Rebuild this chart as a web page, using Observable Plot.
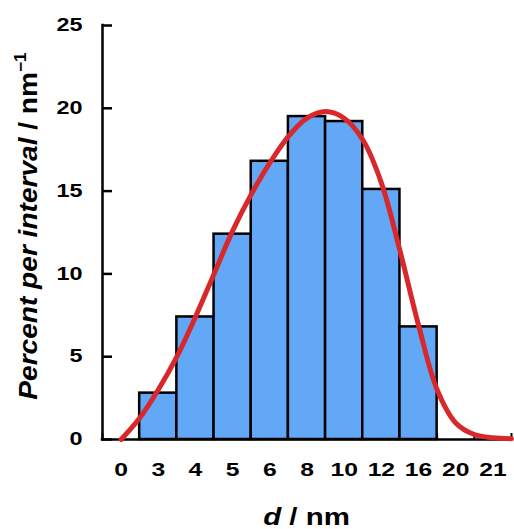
<!DOCTYPE html>
<html>
<head>
<meta charset="utf-8">
<script src="https://cdn.jsdelivr.net/npm/d3@7"></script>
<script src="https://cdn.jsdelivr.net/npm/@observablehq/plot@0.6"></script>
<style>
  body { margin: 0; background: #fff; }
  svg { display: block; }
</style>
</head>
<body>
<div id="chart"></div>
<script>
// Size classes (nm) shown along the x axis, one per interval
const sizeLabels = ["0", "3", "4", "5", "6", "8", "10", "12", "16", "20", "21"];
// Percent of particles per interval
const percents = [0, 2.8, 7.4, 12.4, 16.8, 19.5, 19.2, 15.1, 6.8, 0, 0];
// Fitted distribution curve, position given in interval index units
const fitPos = [0, 0.5, 1, 1.5, 2, 2.5, 3, 3.5, 4, 4.5, 5, 5.5, 6, 6.5, 7, 7.5, 8, 8.5, 9, 9.5, 10, 10.5];
const fitPct = [0, 1.3, 3.0, 5.0, 7.4, 10.0, 12.6, 14.8, 16.7, 18.3, 19.4, 19.8, 19.4, 18.1, 15.5, 11.4, 6.9, 3.0, 1.0, 0.3, 0.1, 0.05];
const yTicks = [0, 5, 10, 15, 20, 25];

const bins = sizeLabels.map((label, i) => ({i, label, pct: percents[i]}));
const fit = fitPos.map((p, k) => ({p, pct: fitPct[k]}));
const n = sizeLabels.length;
const edges = d3.range(n + 1).map(k => k - 0.5);

const font = "'Liberation Sans', Arial, Helvetica, sans-serif";

const plot = Plot.plot({
  width: 514,
  height: 529,
  marginLeft: 102,
  marginRight: 3,
  marginTop: 25,
  marginBottom: 90,
  style: {fontFamily: font, fontWeight: "bold", fontSize: "18px", color: "#000", background: "#fff", overflow: "visible"},
  x: {type: "linear", domain: [-0.5, n - 0.5]},
  y: {domain: [0, 25]},
  marks: [
    // small upward ticks at interval boundaries
    Plot.axisX(edges, {tickSize: 6, dy: -6, text: null, label: null, strokeWidth: 2}),
    // inward ticks on the y axis
    Plot.axisY(yTicks, {tickSize: 10, dx: 10, text: null, label: null, strokeWidth: 2.5}),
    Plot.axisY(yTicks, {tickSize: 0, tickPadding: 20, label: null, fontSize: 18}),
    Plot.axisX(d3.range(n), {tickSize: 0, tickPadding: 23, label: null, tickFormat: i => sizeLabels[i], fontSize: 19}),
    Plot.rect(bins.filter(d => d.pct > 0), {
      x1: d => d.i - 0.5, x2: d => d.i + 0.5, y1: 0, y2: "pct",
      fill: "#62a8f7", stroke: "#000", strokeWidth: 2.5
    }),
    Plot.ruleX([-0.5], {y1: 0, y2: 25, strokeWidth: 2.5, strokeLinecap: "square"}),
    Plot.ruleY([0], {x1: -0.5, x2: n - 0.5, strokeWidth: 2.5, strokeLinecap: "square"}),
    Plot.line(fit, {x: "p", y: "pct", stroke: "#d9282c", strokeWidth: 5, curve: "catmull-rom", strokeLinecap: "round"})
  ]
});

const svg = d3.select(plot);

// widen the tick label glyphs (wide bold face)
svg.selectAll('[aria-label="x-axis tick label"] text, [aria-label="y-axis tick label"] text')
  .attr("transform", function () {
    return (this.getAttribute("transform") || "") + " scale(1.3,1)";
  });

const xs = plot.scale("x");
const cx = (xs.apply(-0.5) + xs.apply(n - 0.5)) / 2;

// x axis title: "d / nm"
const xt = svg.append("text")
  .attr("transform", `translate(${cx},525) scale(1.28,1)`)
  .attr("text-anchor", "middle")
  .attr("font-family", font).attr("font-weight", "bold").attr("font-size", 23)
  .attr("fill", "#000");
xt.append("tspan").attr("font-style", "italic").text("d");
xt.append("tspan").text(" / nm");

// y axis title: "Percent per interval / nm⁻¹"
const yt = svg.append("text")
  .attr("transform", `translate(37,226) rotate(-90) scale(1.08,1)`)
  .attr("text-anchor", "middle")
  .attr("font-family", font).attr("font-weight", "bold").attr("font-size", 26)
  .attr("fill", "#000");
yt.append("tspan").attr("font-style", "italic").text("Percent per interval");
yt.append("tspan").text(" / nm");
yt.append("tspan").attr("font-size", 16).attr("dy", -11).text("\u22121");

document.getElementById("chart").appendChild(plot);
</script>
</body>
</html>
